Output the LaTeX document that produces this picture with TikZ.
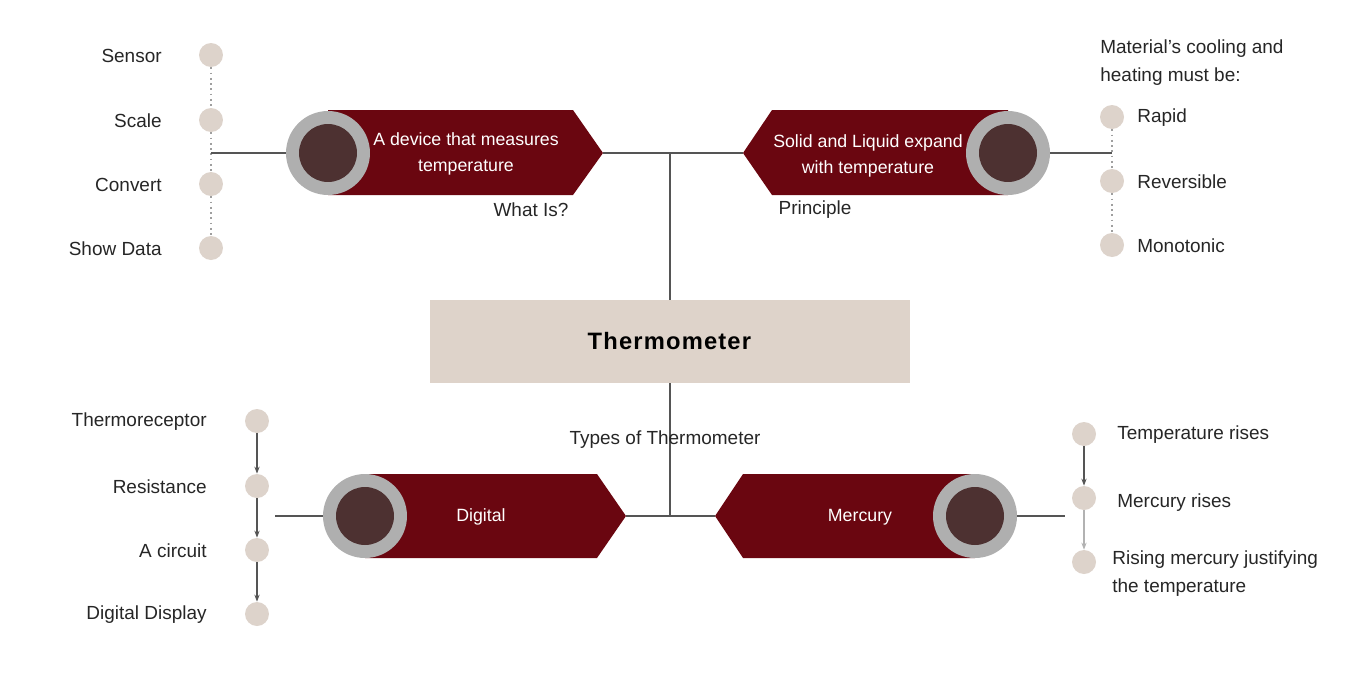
\documentclass[tikz,border=0pt]{standalone}
\usepackage{fontspec}
\setmainfont{Liberation Sans}
\usetikzlibrary{arrows.meta}
\definecolor{bannerred}{HTML}{6A0610}
\definecolor{coredark}{HTML}{4D3131}
\definecolor{ringgray}{HTML}{AFAFAF}
\definecolor{dotbeige}{HTML}{DDD3CB}
\definecolor{boxbeige}{HTML}{DED3CA}
\definecolor{linegray}{HTML}{555555}
\begin{document}
\begin{tikzpicture}[
  x=0.02cm, y=-0.02cm,
  ring/.style={circle, fill=ringgray, minimum size=1.68cm, inner sep=0pt},
  core/.style={circle, fill=coredark, minimum size=1.16cm, inner sep=0pt},
  banner/.style={fill=bannerred},
  btext/.style={text=white, font=\fontsize{10.1pt}{14.8pt}\selectfont, align=center},
  dot/.style={circle, fill=dotbeige, minimum size=0.48cm, inner sep=0pt},
  item/.style={font=\fontsize{10.8pt}{16.4pt}\selectfont, text=black!85, inner sep=0pt},
  link/.style={draw=linegray, line width=0.6pt},
  dotline/.style={draw=gray!75, dotted, line width=1pt},
  step arrow/.style={draw=linegray, line width=0.6pt, -{Stealth[length=4pt,width=3pt]}}
]
  \useasboundingbox (0,0) rectangle (1360,680);

  % centre
  \node[fill=boxbeige, minimum width=9.6cm, minimum height=1.66cm] (thermo) at (670,341.5)
    {\fontsize{13.5pt}{16pt}\selectfont\addfontfeature{LetterSpace=5}\textbf{Thermometer}};

  % What Is? (top left)
  \fill[banner] (328,110) -- (573,110) -- (603,153) -- (573,195) -- (328,195) -- cycle;
  \coordinate (whattip) at (603,153);
  \node[ring] (whatring) at (328,153) {};
  \node[core] at (whatring) {};
  \node[btext] (what) at (466,154) {A device that measures\\temperature};
  \node[item] (whatlbl) at (531,210) {What Is?};

  % Principle (top right)
  \fill[banner] (1008,110) -- (772,110) -- (743,153) -- (772,195) -- (1008,195) -- cycle;
  \coordinate (printip) at (743,153);
  \node[ring] (prinring) at (1008,153) {};
  \node[core] at (prinring) {};
  \node[btext] (prin) at (868,156) {Solid and Liquid expand\\with temperature};
  \node[item] (prinlbl) at (815,210) {Principle};

  % Digital (bottom left)
  \fill[banner] (365,474) -- (597,474) -- (626,516) -- (597,558) -- (365,558) -- cycle;
  \coordinate (digtip) at (626,516);
  \node[ring] (digring) at (365,516) {};
  \node[core] at (digring) {};
  \node[btext] (dig) at (481,517) {Digital};

  % Mercury (bottom right)
  \fill[banner] (975,474) -- (743,474) -- (715,516) -- (743,558) -- (975,558) -- cycle;
  \coordinate (mertip) at (715,516);
  \node[ring] (merring) at (975,516) {};
  \node[core] at (merring) {};
  \node[btext] (mer) at (860,517) {Mercury};

  % trunk
  \coordinate (topjoin) at (670,153);
  \coordinate (botjoin) at (670,516);
  \draw[link] (whattip) -- (printip);
  \draw[link] (topjoin) -- (thermo.north -| topjoin);
  \draw[link] (digtip) -- (mertip);
  \draw[link] (thermo.south -| botjoin) -- (botjoin);
  \node[item] (types) at (665,440) {Types of Thermometer};

  % parts
  \node[dot] (s1) at (211,55) {};
  \node[dot] (s2) at (211,120) {};
  \node[dot] (s3) at (211,184) {};
  \node[dot] (s4) at (211,248) {};
  \draw[dotline] (s1) -- (s2);
  \draw[dotline] (s2) -- (s3);
  \draw[dotline] (s3) -- (s4);
  \coordinate (whatend) at (211,153);
  \draw[link] (whatend) -- (whatring);
  \node[item, anchor=east] at (162,56) {Sensor};
  \node[item, anchor=east] at (162,121) {Scale};
  \node[item, anchor=east] at (162,185) {Convert};
  \node[item, anchor=east] at (162,249) {Show Data};

  % conditions
  \node[item, anchor=north west, align=left] (cond) at (1100,39)
    {Material's cooling and\\heating must be:};
  \node[dot] (c1) at (1112,117) {};
  \node[dot] (c2) at (1112,181) {};
  \node[dot] (c3) at (1112,245) {};
  \draw[dotline] (c1) -- (c2);
  \draw[dotline] (c2) -- (c3);
  \coordinate (prinend) at (1112,153);
  \draw[link] (prinring) -- (prinend);
  \node[item, anchor=west] at (1137,118) {Rapid};
  \node[item, anchor=west] at (1137,182) {Reversible};
  \node[item, anchor=west] at (1137,246) {Monotonic};

  % digital chain
  \node[dot] (d1) at (257,421) {};
  \node[dot] (d2) at (257,486) {};
  \node[dot] (d3) at (257,550) {};
  \node[dot] (d4) at (257,614) {};
  \draw[step arrow] (d1) -- (d2);
  \draw[step arrow] (d2) -- (d3);
  \draw[step arrow] (d3) -- (d4);
  \coordinate (digend) at (275,516);
  \draw[link] (digend) -- (digring);
  \node[item, anchor=east] at (207,422) {Thermoreceptor};
  \node[item, anchor=east] at (207,487) {Resistance};
  \node[item, anchor=east] at (207,551) {A circuit};
  \node[item, anchor=east] at (207,615) {Digital Display};

  % mercury chain
  \node[dot] (m1) at (1084,434) {};
  \node[dot] (m2) at (1084,498) {};
  \node[dot] (m3) at (1084,562) {};
  \draw[step arrow] (m1) -- (m2);
  \draw[step arrow, draw=gray!60] (m2) -- (m3);
  \coordinate (merend) at (1065,516);
  \draw[link] (merring) -- (merend);
  \node[item, anchor=west] at (1117,435) {Temperature rises};
  \node[item, anchor=west] at (1117,503) {Mercury rises};
  \node[item, anchor=north west, align=left] at (1112,550)
    {Rising mercury justifying\\the temperature};
\end{tikzpicture}
\end{document}
